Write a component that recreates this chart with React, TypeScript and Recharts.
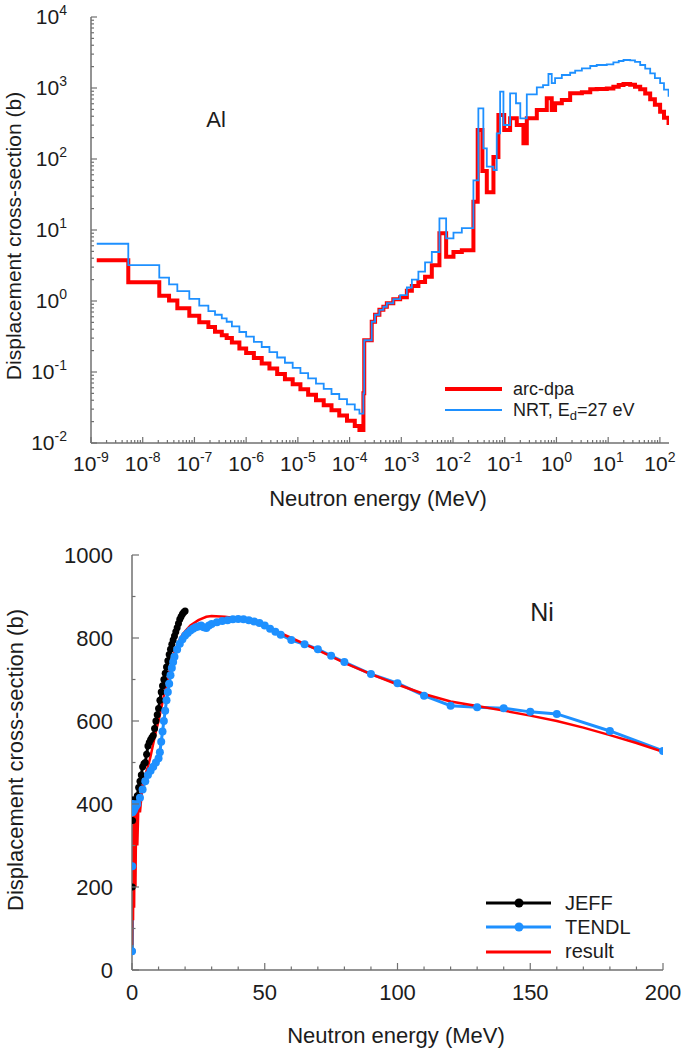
import React from 'react';
import { LineChart, Line, XAxis, YAxis } from 'recharts';

// ---------- top panel: Al, displacement cross-section vs energy (log-log) ----------
const AL_ARC_E = [
  1.29e-9, 5.26e-9, 2.09e-8, 3.23e-8, 4.67e-8, 7.96e-8, 1.24e-7, 1.86e-7, 2.5e-7, 3.38e-7, 4.2e-7, 5.3e-7,
  7.4e-7, 1.0e-6, 1.41e-6, 2.0e-6, 2.82e-6, 3.98e-6, 5.62e-6, 7.94e-6, 1.12e-5, 1.58e-5, 2.24e-5, 3.16e-5,
  4.47e-5, 6.31e-5, 8.91e-5, 1.26e-4, 1.55e-4, 1.85e-4, 1.92e-4, 2.68e-4, 3.11e-4, 3.77e-4, 4.5e-4, 5.25e-4,
  7.0e-4, 9.5e-4, 1.28e-3, 1.6e-3, 2.14e-3, 2.88e-3, 3.89e-3, 5.46e-3, 7.36e-3, 1.02e-2, 1.48e-2, 2.48e-2,
  3.0e-2, 3.7e-2, 4.5e-2, 6.05e-2, 7.55e-2, 9.77e-2, 0.127, 0.171, 0.23, 0.267, 0.417, 0.65, 0.81, 0.94,
  1.27, 1.84, 3.1, 4.5, 6.0, 9.4, 12.6, 16, 19.8, 26.6, 33, 41.6, 52, 64.9, 80, 101, 120, 147,
];
const AL_ARC_S = [
  3.74, 1.83, 1.19, 1.02, 0.79, 0.62, 0.5, 0.43, 0.37, 0.33, 0.3, 0.26,
  0.215, 0.185, 0.157, 0.132, 0.112, 0.094, 0.079, 0.067, 0.057, 0.048, 0.04, 0.034,
  0.029, 0.0243, 0.0205, 0.0173, 0.0152, 0.05, 0.28, 0.51, 0.64, 0.75, 0.83, 0.93,
  1.06, 1.13, 1.4, 1.62, 1.85, 2.2, 3.2, 9.0, 4.2, 4.9, 5.2, 25,
  256, 68, 34, 107, 417, 256, 374, 301, 166, 374, 490, 716, 490, 610,
  677, 841, 870, 957, 970, 980, 1042, 1100, 1140, 1110, 1040, 957, 840, 695, 580, 463, 380, 301,
];
const AL_NRT_E = [
  1.29e-9, 5.26e-9, 2.09e-8, 3.23e-8, 4.67e-8, 7.96e-8, 1.24e-7, 1.86e-7, 2.5e-7, 3.38e-7, 4.2e-7, 5.3e-7,
  7.4e-7, 1.0e-6, 1.41e-6, 2.0e-6, 2.82e-6, 3.98e-6, 5.62e-6, 7.94e-6, 1.12e-5, 1.58e-5, 2.24e-5, 3.16e-5,
  4.47e-5, 6.31e-5, 8.91e-5, 1.26e-4, 1.55e-4, 1.85e-4, 1.92e-4, 2.68e-4, 3.11e-4, 3.77e-4, 4.5e-4, 5.25e-4,
  7.0e-4, 9.5e-4, 1.28e-3, 1.6e-3, 2.14e-3, 2.88e-3, 3.89e-3, 5.46e-3, 7.36e-3, 1.02e-2, 1.48e-2, 2.48e-2,
  3.09e-2, 3.86e-2, 4.5e-2, 6.05e-2, 7.0e-2, 8.14e-2, 9.44e-2, 0.127, 0.165, 0.2, 0.267, 0.417, 0.55, 0.7,
  0.81, 0.94, 1.27, 1.84, 2.3, 3.1, 4.5, 6.0, 9.4, 12.6, 16, 19.8, 26.6, 33, 41.6, 52, 64.9, 80, 101, 120, 147,
];
const AL_NRT_S = [
  6.4, 3.2, 2.13, 1.72, 1.38, 1.07, 0.86, 0.72, 0.64, 0.57, 0.51, 0.44,
  0.366, 0.315, 0.266, 0.225, 0.19, 0.16, 0.135, 0.114, 0.0964, 0.0815, 0.0687, 0.058,
  0.049, 0.0414, 0.0349, 0.0295, 0.026, 0.05, 0.28, 0.51, 0.64, 0.75, 0.83, 0.93,
  1.06, 1.21, 1.55, 2.0, 2.6, 3.5, 4.9, 14.6, 7.6, 9.2, 10.6, 50,
  518, 141, 78, 70, 230, 887, 301, 841, 610, 374, 815, 1023, 1100, 1574,
  1170, 1380, 1524, 1640, 1753, 1893, 2042, 2109, 2150, 2300, 2400, 2478, 2450, 2330, 2109, 1880, 1611, 1380, 1175, 950, 754,
];
const AL_X_EXP = [-9, -8, -7, -6, -5, -4, -3, -2, -1, 0, 1, 2];
const AL_Y_EXP = [-2, -1, 0, 1, 2, 3, 4];

// ---------- bottom panel: Ni, linear axes ----------
const NI_JEFF_E = [
  0, 0.1, 0.2, 0.3, 0.5, 0.7, 1, 1.5, 2, 2.5, 3, 3.5, 4, 4.5, 5, 5.5, 6, 6.5, 7, 7.5, 8, 8.5, 9, 9.5,
  10, 10.5, 11, 11.5, 12, 12.5, 13, 13.5, 14, 14.5, 15, 15.5, 16, 16.5, 17, 17.5, 18, 18.5, 19, 19.5, 20,
];
const NI_JEFF_S = [
  45, 200, 360, 405, 410, 395, 400, 405, 420, 440, 455, 470, 490, 497, 500, 520, 540, 548, 555, 560, 565, 582, 600, 615,
  630, 650, 670, 685, 700, 715, 730, 745, 760, 773, 785, 795, 805, 815, 825, 835, 845, 852, 858, 862, 865,
];
const NI_TENDL_E = [
  0, 0.1, 0.2, 0.4, 0.7, 1, 1.5, 2, 3, 4, 5, 6, 7, 8, 9, 10, 10.5, 11, 11.5, 12, 12.5, 13, 13.5, 14, 14.5,
  15, 15.5, 16, 17, 18, 19, 20, 21, 22, 23, 24, 25, 26, 27, 28, 29, 30, 32, 34, 36, 38, 40, 42, 44, 46,
  48, 50, 52, 54, 56, 60, 65, 70, 75, 80, 90, 100, 110, 120, 130, 140, 150, 160, 180, 200,
];
const NI_TENDL_S = [
  45, 250, 380, 400, 385, 390, 395, 400, 415, 435, 455, 470, 480, 490, 500, 510, 525, 550, 575, 600, 625, 650, 670, 690, 710,
  728, 742, 755, 772, 786, 797, 806, 812, 818, 822, 826, 828, 830, 826, 824, 830, 834, 838, 841, 843, 845, 846, 845, 843, 840,
  836, 830, 822, 815, 808, 795, 785, 773, 757, 742, 713, 691, 661, 637, 633, 631, 622, 617, 576, 528,
];
const NI_RES_E = [
  0, 0.2, 0.4, 0.6, 0.8, 1, 1.3, 1.6, 2, 2.5, 3, 4, 5, 6, 7, 8, 9, 10, 11, 12, 13, 14, 15, 16, 17, 18, 19, 20,
  22, 25, 28, 30, 35, 40, 45, 50, 55, 60, 65, 70, 75, 80, 90, 100, 110, 120, 130, 140, 150, 160, 170, 180, 190, 200,
];
const NI_RES_S = [
  60, 380, 120, 360, 150, 380, 200, 400, 300, 420, 380, 450, 470, 490, 515, 545, 575, 600, 630, 660, 690, 718, 745, 765, 782, 797, 808, 816,
  830, 843, 851, 853, 851, 847, 840, 828, 815, 800, 786, 771, 756, 740, 713, 688, 665, 647, 636, 625, 613, 600, 584, 566, 547, 526,
];
const NI_X_TICKS = [0, 50, 100, 150, 200];
const NI_Y_TICKS = [0, 200, 400, 600, 800, 1000];

const FONT = '"Liberation Sans", Arial, Helvetica, sans-serif';
const INK = '#1c1c1c';
const FRAME = '#707070';
const RED = '#ff0000';
const BLUE = '#1e90ff';

const zip = (e: number[], s: number[]) => e.map((v, i) => ({ e: v, s: s[i] }));

const alArc = zip(AL_ARC_E, AL_ARC_S);
const alNrt = zip(AL_NRT_E, AL_NRT_S);
const niJeff = zip(NI_JEFF_E, NI_JEFF_S);
const niTendl = zip(NI_TENDL_E, NI_TENDL_S);
const niRes = zip(NI_RES_E, NI_RES_S);

// decade ticks plus 2..9 minor ticks
const logTicks = (exps: number[], maxV: number) => {
  const out: number[] = [];
  exps.forEach((p) => {
    for (let k = 1; k <= 9; k++) {
      const v = k * Math.pow(10, p);
      if (v <= maxV * 1.0001) out.push(v);
    }
  });
  return out;
};
const linTicks = (lo: number, hi: number, step: number) => {
  const out: number[] = [];
  for (let v = lo; v <= hi; v += step) out.push(v);
  return out;
};

const isDecade = (v: number) => Math.abs(Math.log10(v) - Math.round(Math.log10(v))) < 1e-6;
const expOf = (v: number) => String(Math.round(Math.log10(v)));

const tickLine = { stroke: FRAME, strokeWidth: 1.2 };

// --- top panel tick renderers ---
const alBottomTick = (p: any) => {
  const v = p.payload.value;
  const major = isDecade(v);
  return (
    <g>
      <line x1={p.x} x2={p.x} y1={p.y} y2={p.y - (major ? 6 : 3)} {...tickLine} />
      {major && (
        <text x={p.x} y={p.y + 28} textAnchor="middle" fontSize={21} fill={INK} fontFamily={FONT}>
          <tspan>10</tspan>
          <tspan dy={-9} fontSize={14}>{expOf(v)}</tspan>
        </text>
      )}
    </g>
  );
};
const alTopTick = (p: any) => {
  const major = isDecade(p.payload.value);
  return <line x1={p.x} x2={p.x} y1={p.y} y2={p.y + (major ? 6 : 3)} {...tickLine} />;
};
const alLeftTick = (p: any) => {
  const v = p.payload.value;
  const major = isDecade(v);
  return (
    <g>
      <line x1={p.x} x2={p.x + (major ? 6 : 3)} y1={p.y} y2={p.y} {...tickLine} />
      {major && (
        <text x={p.x - 24} y={p.y + 7} textAnchor="end" fontSize={21} fill={INK} fontFamily={FONT}>
          <tspan>10</tspan>
          <tspan dy={-9} fontSize={14}>{expOf(v)}</tspan>
        </text>
      )}
    </g>
  );
};
const alRightTick = (p: any) => {
  const major = isDecade(p.payload.value);
  return <line x1={p.x} x2={p.x - (major ? 6 : 3)} y1={p.y} y2={p.y} {...tickLine} />;
};

// --- bottom panel tick renderers ---
const niBottomTick = (p: any) => {
  const v = p.payload.value;
  const major = NI_X_TICKS.includes(v);
  return (
    <g>
      <line x1={p.x} x2={p.x} y1={p.y} y2={p.y - (major ? 7 : 3.5)} {...tickLine} />
      {major && (
        <text x={p.x} y={p.y + 30} textAnchor="middle" fontSize={22} fill={INK} fontFamily={FONT}>
          {v}
        </text>
      )}
    </g>
  );
};
const niTopTick = (p: any) => {
  const major = NI_X_TICKS.includes(p.payload.value);
  return <line x1={p.x} x2={p.x} y1={p.y} y2={p.y + (major ? 7 : 3.5)} {...tickLine} />;
};
const niLeftTick = (p: any) => {
  const v = p.payload.value;
  const major = NI_Y_TICKS.includes(v);
  return (
    <g>
      <line x1={p.x} x2={p.x + (major ? 7 : 3.5)} y1={p.y} y2={p.y} {...tickLine} />
      {major && (
        <text x={p.x - 19} y={p.y + 8} textAnchor="end" fontSize={22} fill={INK} fontFamily={FONT}>
          {v}
        </text>
      )}
    </g>
  );
};
const niRightTick = (p: any) => {
  const major = NI_Y_TICKS.includes(p.payload.value);
  return <line x1={p.x} x2={p.x - (major ? 7 : 3.5)} y1={p.y} y2={p.y} {...tickLine} />;
};

const frame = { stroke: FRAME, strokeWidth: 1.5 };

function AlPanel() {
  const xDom: [number, number] = [1e-9, 150];
  const yDom: [number, number] = [1e-2, 1e4];
  const xt = logTicks(AL_X_EXP, 150);
  const yt = logTicks(AL_Y_EXP, 1e4);
  return (
    <LineChart width={685} height={520} margin={{ top: 17, right: 16, bottom: 0, left: 0 }}>
      <XAxis dataKey="e" type="number" scale="log" domain={xDom} allowDataOverflow ticks={xt} interval={0}
        height={77} tickSize={0} tickMargin={0} tick={alBottomTick} axisLine={frame} />
      <XAxis xAxisId="top" orientation="top" dataKey="e" type="number" scale="log" domain={xDom} allowDataOverflow
        ticks={xt} interval={0} height={0} tickSize={0} tickMargin={0} tick={alTopTick} axisLine={frame} />
      <YAxis type="number" scale="log" domain={yDom} allowDataOverflow ticks={yt} interval={0}
        width={91} tickSize={0} tickMargin={0} tick={alLeftTick} axisLine={frame} />
      <YAxis yAxisId="right" orientation="right" type="number" scale="log" domain={yDom} allowDataOverflow
        ticks={yt} interval={0} width={0} tickSize={0} tickMargin={0} tick={alRightTick} axisLine={frame} />
      <Line data={alArc} dataKey="s" type="stepAfter" stroke={RED} strokeWidth={4} dot={false} activeDot={false}
        isAnimationActive={false} />
      <Line data={alNrt} dataKey="s" type="stepAfter" stroke={BLUE} strokeWidth={1.8} dot={false} activeDot={false}
        isAnimationActive={false} />
    </LineChart>
  );
}

function NiPanel() {
  const xDom: [number, number] = [0, 200];
  const yDom: [number, number] = [0, 1000];
  const xt = linTicks(0, 200, 10);
  const yt = linTicks(0, 1000, 100);
  return (
    <LineChart width={685} height={531} margin={{ top: 35, right: 22, bottom: 0, left: 0 }}>
      <XAxis dataKey="e" type="number" domain={xDom} allowDataOverflow ticks={xt} interval={0}
        height={81} tickSize={0} tickMargin={0} tick={niBottomTick} axisLine={frame} />
      <XAxis xAxisId="top" orientation="top" dataKey="e" type="number" domain={xDom} allowDataOverflow
        ticks={xt} interval={0} height={0} tickSize={0} tickMargin={0} tick={niTopTick} axisLine={frame} />
      <YAxis type="number" domain={yDom} allowDataOverflow ticks={yt} interval={0}
        width={132} tickSize={0} tickMargin={0} tick={niLeftTick} axisLine={frame} />
      <YAxis yAxisId="right" orientation="right" type="number" domain={yDom} allowDataOverflow
        ticks={yt} interval={0} width={0} tickSize={0} tickMargin={0} tick={niRightTick} axisLine={frame} />
      <Line data={niJeff} dataKey="s" type="linear" stroke="#000" strokeWidth={3}
        dot={{ r: 3.5, fill: '#000', stroke: '#000', strokeWidth: 0 }} activeDot={false} isAnimationActive={false} />
      <Line data={niTendl} dataKey="s" type="linear" stroke={BLUE} strokeWidth={3}
        dot={{ r: 4, fill: BLUE, stroke: BLUE, strokeWidth: 0 }} activeDot={false} isAnimationActive={false} />
      <Line data={niRes} dataKey="s" type="linear" stroke={RED} strokeWidth={2.5} dot={false} activeDot={false}
        isAnimationActive={false} />
    </LineChart>
  );
}

function Overlay() {
  const t = { fontFamily: FONT, fill: INK };
  return (
    <svg width={685} height={1051} style={{ position: 'absolute', left: 0, top: 0, pointerEvents: 'none' }}>
      {/* top panel */}
      <text {...t} x={216} y={127} fontSize={22} textAnchor="middle">Al</text>
      <text {...t} x={378} y={506} fontSize={22} textAnchor="middle">Neutron energy (MeV)</text>
      <text {...t} fontSize={21} textAnchor="middle" transform="translate(21 236) rotate(-90)">
        Displacement cross-section (b)
      </text>
      <line x1={445} x2={502} y1={389} y2={389} stroke={RED} strokeWidth={4} />
      <text {...t} x={513} y={395} fontSize={18}>arc-dpa</text>
      <line x1={445} x2={502} y1={410} y2={410} stroke={BLUE} strokeWidth={1.8} />
      <text {...t} x={513} y={416} fontSize={18}>
        NRT, E<tspan dy={4} fontSize={13}>d</tspan>
        <tspan dy={-4}>=27 eV</tspan>
      </text>

      {/* bottom panel */}
      <text {...t} x={542} y={621} fontSize={25} textAnchor="middle">Ni</text>
      <text {...t} x={396} y={1043} fontSize={22} textAnchor="middle">Neutron energy (MeV)</text>
      <text {...t} fontSize={22} textAnchor="middle" transform="translate(23 760) rotate(-90)">
        Displacement cross-section (b)
      </text>
      <line x1={486} x2={551} y1={903} y2={903} stroke="#000" strokeWidth={3} />
      <circle cx={519} cy={903} r={4.5} fill="#000" />
      <text {...t} x={565} y={910} fontSize={20}>JEFF</text>
      <line x1={486} x2={551} y1={927} y2={927} stroke={BLUE} strokeWidth={3} />
      <circle cx={519} cy={927} r={4.5} fill={BLUE} />
      <text {...t} x={565} y={934} fontSize={20}>TENDL</text>
      <line x1={486} x2={551} y1={952} y2={952} stroke={RED} strokeWidth={3} />
      <text {...t} x={565} y={958} fontSize={20}>result</text>
    </svg>
  );
}

export default function App() {
  return (
    <div style={{ position: 'absolute', left: 0, top: 0, width: 685, height: 1051, background: '#fff' }}>
      <div style={{ position: 'absolute', left: 0, top: 0 }}>
        <AlPanel />
      </div>
      <div style={{ position: 'absolute', left: 0, top: 520 }}>
        <NiPanel />
      </div>
      <Overlay />
    </div>
  );
}
